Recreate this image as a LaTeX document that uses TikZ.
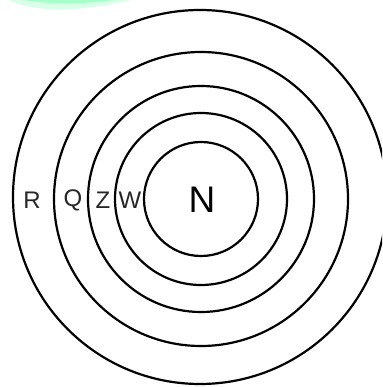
\documentclass[tikz,border=0pt]{standalone}
\usepackage{fontspec}
\setmainfont{Liberation Sans}
\begin{document}
\begin{tikzpicture}[x=1pt,y=-1pt,
  ring/.style={draw=black,line width=2.2pt},
  lbl/.style={font=\fontsize{24}{24}\selectfont,text=black!85,inner sep=0pt},
  big/.style={font=\fontsize{37}{37}\selectfont,text=black,inner sep=0pt}]
\useasboundingbox (0,0) rectangle (382,387);
\clip (0,0) rectangle (382,387);
\fill[green!60!cyan!30,opacity=0.8] (0,-5) .. controls (50,10) and (110,6) .. (150,-5) -- cycle;
\fill[green!60!cyan!15] (0,-5) .. controls (30,16) and (90,12) .. (150,-5) -- cycle;
\fill[green!60!cyan!35] (0,-5) .. controls (50,8) and (100,4) .. (140,-5) -- cycle;
\coordinate (c) at (201,199);
\node[ring,circle,minimum size=374pt,inner sep=0pt] (r1) at (200,197) {};
\node[ring,circle,minimum size=294pt,inner sep=0pt] (r2) at (c) {};
\node[ring,circle,minimum size=226pt,inner sep=0pt] (r3) at (c) {};
\node[ring,circle,minimum size=172pt,inner sep=0pt] (r4) at (c) {};
\node[ring,circle,minimum size=114pt,inner sep=0pt] (r5) at (c) {};
\node[lbl] (R) at (32,200) {R};
\node[lbl] (Q) at (73,200) {Q};
\node[lbl] (Z) at (103,200) {Z};
\node[lbl] (W) at (130,200) {W};
\node[big] (N) at (202,200) {N};
\end{tikzpicture}
\end{document}
